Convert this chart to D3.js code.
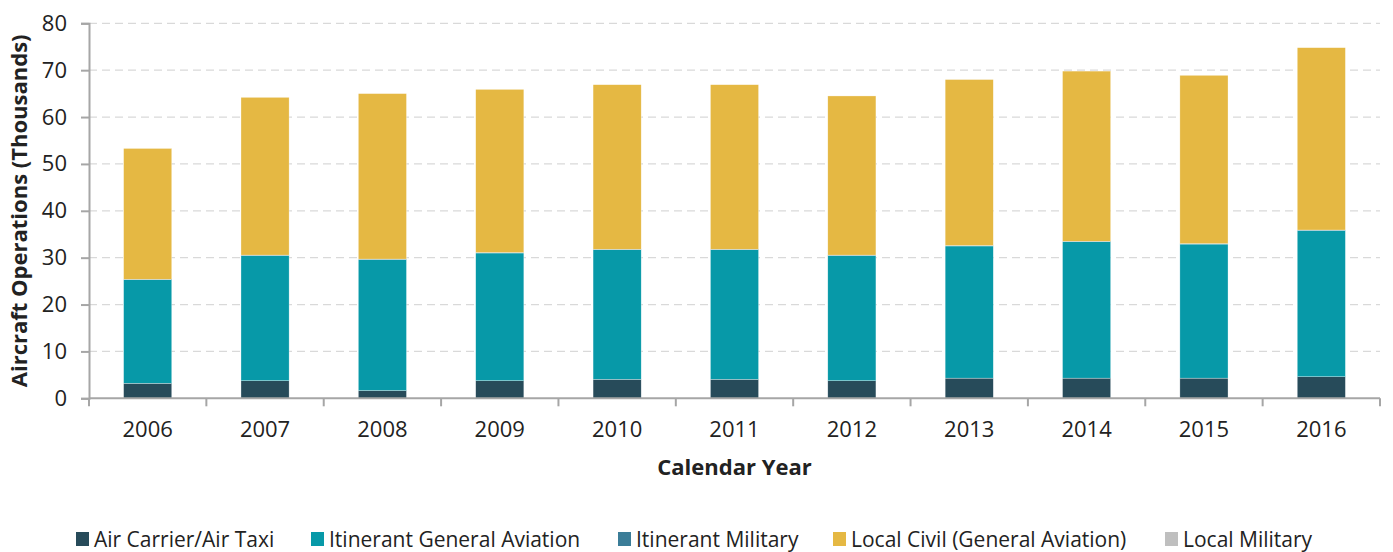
<!DOCTYPE html>
<html>
<head>
<meta charset="utf-8">
<script src="https://cdn.jsdelivr.net/npm/d3@7"></script>
<style>
  body { margin: 0; background: #fff; }
  text { font-family: "Open Sans", "Noto Sans", sans-serif; fill: #222; }
</style>
</head>
<body>
<div id="chart"></div>
<script>
var years = ["2006","2007","2008","2009","2010","2011","2012","2013","2014","2015","2016"];
var seriesNames = ["Air Carrier/Air Taxi","Itinerant General Aviation","Itinerant Military","Local Civil (General Aviation)","Local Military"];
var seriesColors = ["#274b5a","#0799a8","#3b7d98","#e5b843","#bfbfbf"];
// thousands of operations
var airCarrier = [3.2, 3.75, 1.65, 3.75, 4.05, 4.05, 3.75, 4.3, 4.3, 4.3, 4.6];
var itinerantGA = [22.1, 26.7, 27.95, 27.25, 27.65, 27.65, 26.7, 28.2, 29.1, 28.6, 31.2];
var itinerantMil = [0.1, 0.1, 0.1, 0.1, 0.1, 0.1, 0.1, 0.1, 0.1, 0.1, 0.1];
var localCivil = [27.9, 33.65, 35.3, 34.8, 35.1, 35.1, 33.95, 35.4, 36.3, 35.9, 38.9];
var localMil = [0, 0, 0, 0, 0, 0, 0, 0, 0, 0, 0];
var yTicks = [0, 10, 20, 30, 40, 50, 60, 70, 80];

var allSeries = [airCarrier, itinerantGA, itinerantMil, localCivil, localMil];
var rows = years.map(function(y, i) {
  var r = { year: y };
  seriesNames.forEach(function(s, k) { r[s] = allSeries[k][i]; });
  return r;
});

var w_svg = 1393, h_svg = 552;
var m = { left: 89, right: 13, top: 23.3, bottom: 153.7 };

var svg = d3.select("#chart").append("svg")
  .attr("width", w_svg).attr("height", h_svg);

var x = d3.scaleBand().domain(years).range([m.left, w_svg - m.right]).paddingInner(0.59).paddingOuter(0.295);
var y = d3.scaleLinear().domain([0, 80]).range([h_svg - m.bottom, m.top]);

// grid
svg.append("g").selectAll("line")
  .data(yTicks.filter(function(d) { return d > 0; }))
  .enter().append("line")
  .attr("x1", m.left).attr("x2", w_svg - m.right)
  .attr("y1", function(d) { return y(d); }).attr("y2", function(d) { return y(d); })
  .style("stroke", "#d9d9d9").style("stroke-width", 1.3)
  .style("stroke-dasharray", "8,5");

var stacked = d3.stack().keys(seriesNames)(rows);

svg.append("g").selectAll("g")
  .data(stacked).enter().append("g")
  .style("fill", function(d, i) { return seriesColors[i]; })
  .selectAll("rect")
  .data(function(d) { return d; })
  .enter().append("rect")
  .attr("x", function(d) { return x(d.data.year); })
  .attr("y", function(d) { return y(d[1]); })
  .attr("width", x.bandwidth())
  .attr("height", function(d) { return y(d[0]) - y(d[1]); })
  .style("stroke", "#fff").style("stroke-width", 0.5).style("stroke-opacity", 0.6);

// y axis
var yAxis = svg.append("g")
  .attr("transform", "translate(" + m.left + ",0)")
  .call(d3.axisLeft(y).tickValues(yTicks).tickSize(8).tickPadding(14));
yAxis.select(".domain").style("stroke", "#a6a6a6").style("stroke-width", 2);
yAxis.selectAll(".tick line").style("stroke", "#a6a6a6").style("stroke-width", 2);
yAxis.selectAll(".tick text").style("font-size", "22px")
  .style("font-family", "'Open Sans', sans-serif").style("fill", "#222");

// x axis with ticks at band edges
var xAxisG = svg.append("g")
  .attr("transform", "translate(0," + y(0) + ")");
xAxisG.append("line")
  .attr("x1", m.left).attr("x2", w_svg - m.right)
  .style("stroke", "#a6a6a6").style("stroke-width", 2);
var step = x.step();
var edges = years.map(function(d) { return x(d) - x.paddingInner() * step / 2; });
edges.push(x(years[years.length - 1]) + x.bandwidth() + x.paddingInner() * step / 2);
xAxisG.selectAll(".edge").data(edges).enter().append("line")
  .attr("x1", function(d) { return d; }).attr("x2", function(d) { return d; })
  .attr("y1", 0).attr("y2", 8)
  .style("stroke", "#a6a6a6").style("stroke-width", 2);
xAxisG.selectAll(".lbl").data(years).enter().append("text")
  .attr("x", function(d) { return x(d) + x.bandwidth() / 2; })
  .attr("y", 39)
  .attr("text-anchor", "middle")
  .style("font-size", "22px")
  .text(function(d) { return d; });

// axis titles
svg.append("text")
  .attr("transform", "translate(27," + ((m.top + y(0)) / 2) + ") rotate(-90)")
  .attr("text-anchor", "middle")
  .style("font-size", "22px").style("font-weight", "bold")
  .text("Aircraft Operations (Thousands)");

svg.append("text")
  .attr("x", (m.left + w_svg - m.right) / 2).attr("y", 475)
  .attr("text-anchor", "middle")
  .style("font-size", "22px").style("font-weight", "bold")
  .text("Calendar Year");

// legend
var legendX = [76, 311, 618, 833, 1165];
var legend = svg.append("g").selectAll("g")
  .data(seriesNames).enter().append("g")
  .attr("transform", function(d, i) { return "translate(" + legendX[i] + ",532)"; });
legend.append("rect")
  .attr("width", 13).attr("height", 14)
  .style("fill", function(d, i) { return seriesColors[i]; });
legend.append("text")
  .attr("x", 18).attr("y", 15)
  .style("font-size", "21px")
  .text(function(d) { return d; });
</script>
</body>
</html>
